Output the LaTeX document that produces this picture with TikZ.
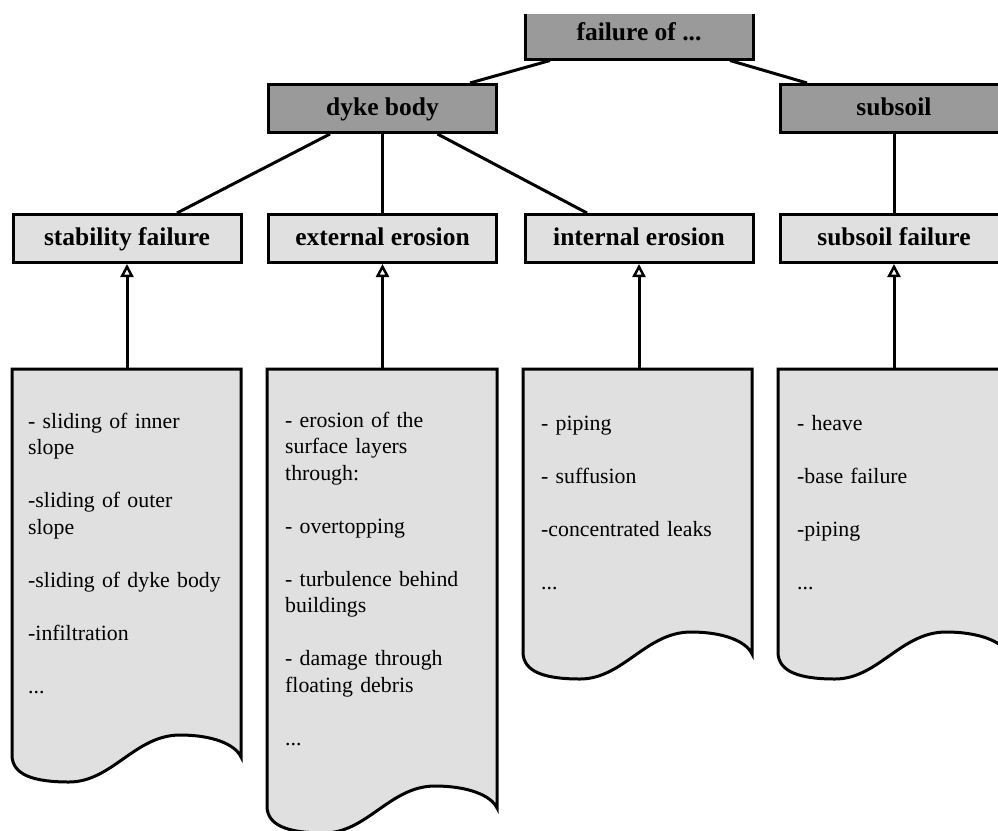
\documentclass[tikz,border=0pt]{standalone}
\usepackage{fontspec}
\setmainfont{Liberation Serif}
\usetikzlibrary{arrows.meta,calc}
\definecolor{darkbox}{HTML}{9A9A9A}
\definecolor{lightbox}{HTML}{E0E0E0}
\newcommand\docshape[4]{% x0, x1, top, base
  \draw[docbody] (#1,#3) -- (#2,#3) -- (#2,#4)
    .. controls ({#2-6},{#4-13}) and ({#1+200},{#4-22}) .. ({#1+168},{#4-22})
    .. controls ({#1+123},{#4-22}) and ({#1+100},{#4+25}) .. ({#1+57},{#4+25})
    .. controls ({#1+22},{#4+25}) and ({#1},{#4+18}) .. ({#1},{#4-2}) -- cycle;}
\begin{document}
\begin{tikzpicture}[x=1pt,y=-1pt,
  topbox/.style={draw=black, line width=3pt, fill=darkbox, minimum width=228pt,
    minimum height=48pt, inner sep=0pt, text height=18pt, text depth=4pt,
    font=\fontsize{25.5}{30}\selectfont\bfseries},
  midbox/.style={topbox, fill=lightbox},
  link/.style={line width=3pt},
  docbody/.style={draw=black, line width=3pt, fill=lightbox, line join=miter},
  doctext/.style={anchor=north west, inner sep=0pt, align=left, text width=205pt,
    font=\fontsize{21.8}{26.5}\selectfont},
  up/.style={line width=3pt, -{Triangle[open, width=13pt, length=13pt, line width=2.5pt]}}
]
\useasboundingbox (0,0) rectangle (998,830);
\clip (0,14) rectangle (998,830);

% top level
\node[topbox, text height=16pt, text depth=6pt] (failure) at (639,35) {failure of ...};
\node[topbox] (dyke) at (382.5,108.5) {dyke body};
\node[topbox] (subsoil) at (894,108.5) {subsoil};

% second level
\node[midbox] (stab) at (127,238.5) {stability failure};
\node[midbox] (ext) at (382.5,238.5) {external erosion};
\node[midbox] (int) at (639,238.5) {internal erosion};
\node[midbox] (subf) at (894,238.5) {subsoil failure};

% connectors
\draw[link] ([xshift=-89pt]failure.south) -- ([xshift=87.5pt]dyke.north);
\draw[link] ([xshift=91pt]failure.south) -- ([xshift=-87pt]subsoil.north);
\draw[link] ([xshift=-52.5pt]dyke.south) -- ([xshift=50pt]stab.north);
\draw[link] (dyke.south) -- (ext.north);
\draw[link] ([xshift=55pt]dyke.south) -- ([xshift=-52pt]int.north);
\draw[link] (subsoil.south) -- (subf.north);

% documents
\docshape{12}{241}{369}{757}
\docshape{267}{497}{369}{808}
\docshape{523}{752}{369}{654}
\docshape{778}{1008}{369}{654}

\coordinate (dA) at (127,369);
\coordinate (dB) at (382.5,369);
\coordinate (dC) at (639,369);
\coordinate (dD) at (894,369);
\draw[up] (dA) -- (stab.south);
\draw[up] (dB) -- (ext.south);
\draw[up] (dC) -- (int.south);
\draw[up] (dD) -- (subf.south);

\node[doctext] (tA) at (28,409.3) {\strut- sliding of inner\\ slope\\[26.5pt] -sliding of outer\\ slope\\[26.5pt] -sliding of dyke body\\[26.5pt] -infiltration\\[26.5pt] ...};
\node[doctext] (tB) at (285,408.3) {\strut- erosion of the\\ surface layers\\ through:\\[26.5pt] - overtopping\\[26.5pt] - turbulence behind\\ buildings\\[26.5pt] - damage through\\ floating debris\\[26.5pt] ...};
\node[doctext] (tC) at (541,411.3) {\strut- piping\\[26.5pt] - suffusion\\[26.5pt] -concentrated leaks\\[26.5pt] ...};
\node[doctext] (tD) at (797,411.3) {\strut- heave\\[26.5pt] -base failure\\[26.5pt] -piping\\[26.5pt] ...};
\end{tikzpicture}
\end{document}
